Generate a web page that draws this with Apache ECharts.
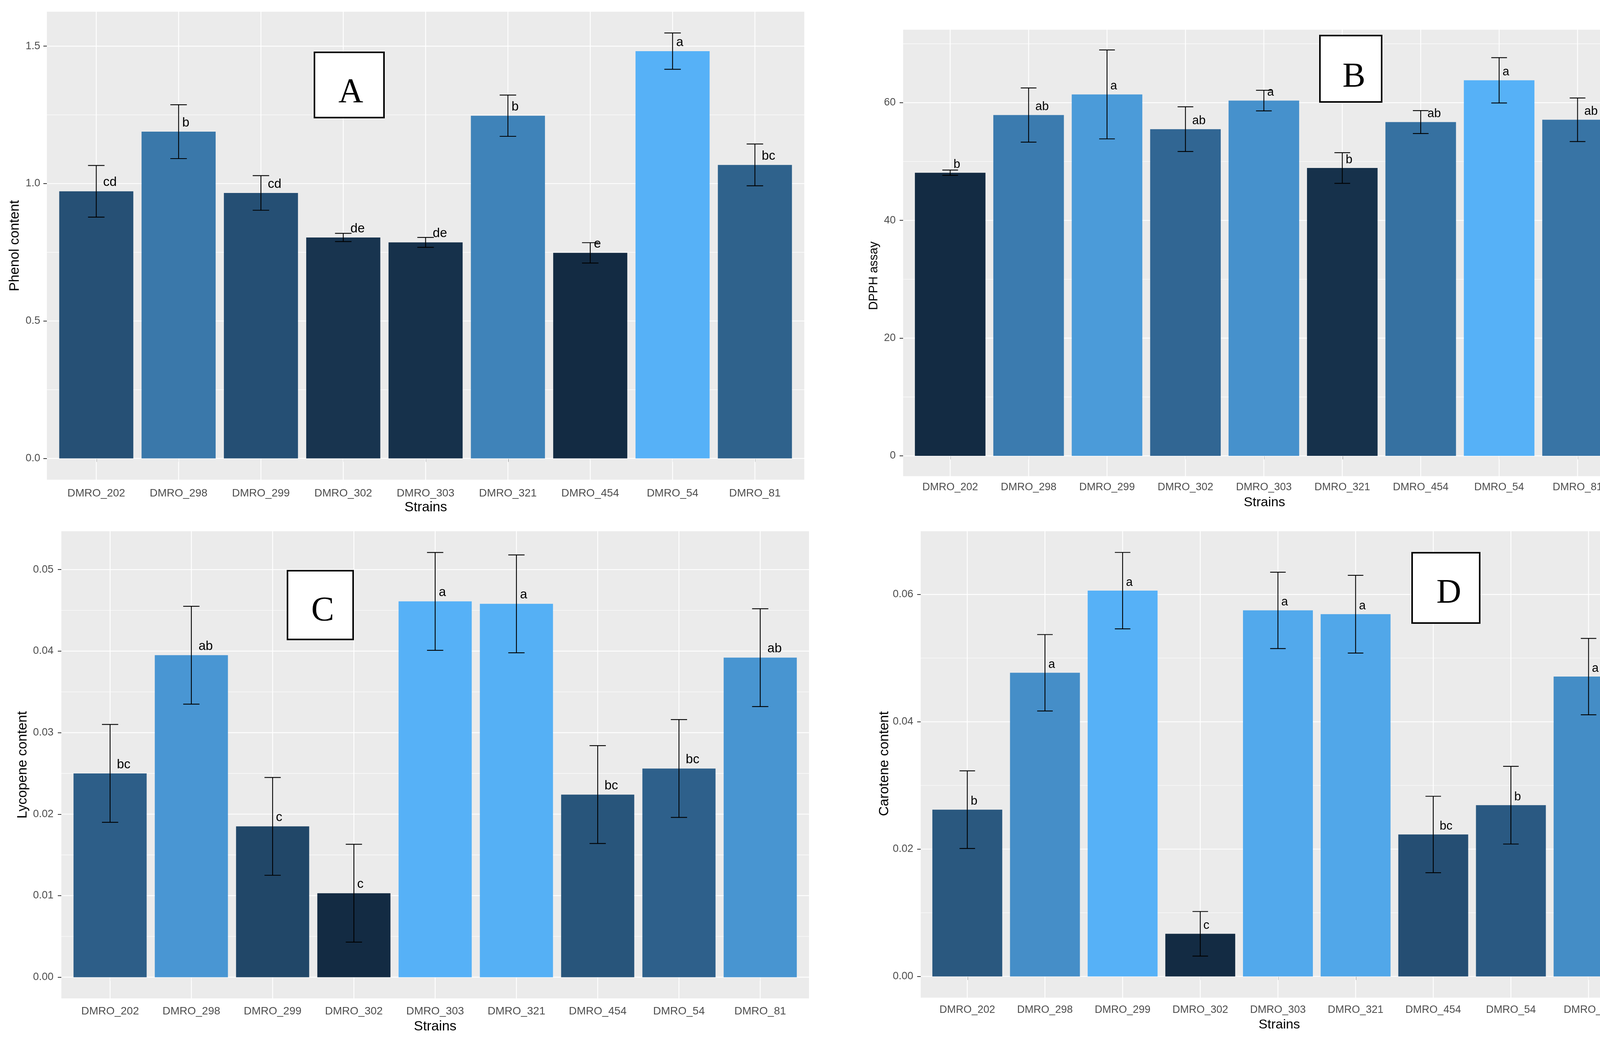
<!DOCTYPE html>
<html>
<head>
<meta charset="utf-8">
<script src="https://cdn.jsdelivr.net/npm/echarts@6.0.0/dist/echarts.min.js"></script>
<style>
html,body{margin:0;padding:0;background:#fff;}
#chart{width:4225px;height:2665px;}
</style>
</head>
<body>
<div id="chart"></div>
<script>
// ---------------- data ----------------
const categories = ['DMRO_202','DMRO_298','DMRO_299','DMRO_302','DMRO_303','DMRO_321','DMRO_454','DMRO_54','DMRO_81'];

const phenolMean    = [0.972, 1.189, 0.966, 0.804, 0.786, 1.247, 0.748, 1.482, 1.068];
const phenolSE      = [0.094, 0.098, 0.063, 0.015, 0.018, 0.075, 0.037, 0.066, 0.076];
const phenolLetters = ['cd','b','cd','de','de','b','e','a','bc'];
const phenolTicks   = [0, 0.5, 1.0, 1.5];
const phenolMinor   = [0.25, 0.75, 1.25];

const dpphMean    = [48.1, 57.9, 61.4, 55.5, 60.35, 48.9, 56.7, 63.8, 57.1];
const dpphSE      = [0.45, 4.6, 7.55, 3.8, 1.75, 2.6, 1.95, 3.85, 3.7];
const dpphLetters = ['b','ab','a','ab','a','b','ab','a','ab'];
const dpphTicks   = [0, 20, 40, 60];
const dpphMinor   = [10, 30, 50, 70];

const lycoMean    = [0.0250, 0.0395, 0.0185, 0.0103, 0.0461, 0.0458, 0.0224, 0.0256, 0.0392];
const lycoSE      = [0.0060, 0.0060, 0.0060, 0.0060, 0.0060, 0.0060, 0.0060, 0.0060, 0.0060];
const lycoLetters = ['bc','ab','c','c','a','a','bc','bc','ab'];
const lycoTicks   = [0, 0.01, 0.02, 0.03, 0.04, 0.05];
const lycoMinor   = [0.005, 0.015, 0.025, 0.035, 0.045];

const caroMean    = [0.0262, 0.0477, 0.0606, 0.0067, 0.0575, 0.0569, 0.0223, 0.0269, 0.0471];
const caroSE      = [0.0061, 0.0060, 0.0060, 0.0035, 0.0060, 0.0061, 0.0060, 0.0061, 0.0060];
const caroLetters = ['b','a','a','c','a','a','bc','b','a'];
const caroTicks   = [0, 0.02, 0.04, 0.06];
const caroMinor   = [0.01, 0.03, 0.05];

// ---------------- helpers ----------------
const FONT = '"Liberation Sans", Arial, sans-serif';
const fillLow = '#132B43', fillHigh = '#56B1F7';

function hexRgb(h){ return [parseInt(h.substr(1,2),16), parseInt(h.substr(3,2),16), parseInt(h.substr(5,2),16)]; }
function toLin(c){ c/=255; return c<=0.04045 ? c/12.92 : Math.pow((c+0.055)/1.055, 2.4); }
function fromLin(c){ c = c<=0.0031308 ? 12.92*c : 1.055*Math.pow(c,1/2.4)-0.055; return Math.round(Math.max(0,Math.min(1,c))*255); }
const Xn=0.95047, Yn=1.0, Zn=1.08883;
function fLab(t){ return t>0.008856 ? Math.cbrt(t) : 7.787*t + 16/116; }
function fInv(t){ return t>0.206893 ? t*t*t : (t-16/116)/7.787; }
function rgbLab(rgb){
  const r=toLin(rgb[0]), g=toLin(rgb[1]), b=toLin(rgb[2]);
  const X=0.4124*r+0.3576*g+0.1805*b, Y=0.2126*r+0.7152*g+0.0722*b, Z=0.0193*r+0.1192*g+0.9505*b;
  const fx=fLab(X/Xn), fy=fLab(Y/Yn), fz=fLab(Z/Zn);
  return [116*fy-16, 500*(fx-fy), 200*(fy-fz)];
}
function labRgb(lab){
  const fy=(lab[0]+16)/116, fx=fy+lab[1]/500, fz=fy-lab[2]/200;
  const X=Xn*fInv(fx), Y=Yn*fInv(fy), Z=Zn*fInv(fz);
  const r= 3.2406*X-1.5372*Y-0.4986*Z, g=-0.9689*X+1.8758*Y+0.0415*Z, b=0.0557*X-0.2040*Y+1.0570*Z;
  return 'rgb('+fromLin(r)+','+fromLin(g)+','+fromLin(b)+')';
}
const labLow = rgbLab(hexRgb(fillLow)), labHigh = rgbLab(hexRgb(fillHigh));
function gradColors(vals){
  const lo=Math.min(...vals), hi=Math.max(...vals);
  return vals.map(v=>{ const t=(v-lo)/(hi-lo); return labRgb([0,1,2].map(i=>labLow[i]+(labHigh[i]-labLow[i])*t)); });
}
const measureCtx = document.createElement('canvas').getContext('2d');
function textW(s, fs){ measureCtx.font = fs+'px '+FONT; return measureCtx.measureText(s).width; }

// ---------------- panels (layout) ----------------
const panels = [
  {mean:phenolMean, se:phenolSE, letters:phenolLetters, ticks:phenolTicks, minor:phenolMinor, dec:1,
   rect:[120,30,1939,1198], xFs:28, yFs:27, xMargin:21, yMargin:17, letFs:33},
  {mean:dpphMean, se:dpphSE, letters:dpphLetters, ticks:dpphTicks, minor:dpphMinor, dec:0,
   rect:[2312,76,1847,1143], xFs:27, yFs:27, xMargin:15, yMargin:19, letFs:31},
  {mean:lycoMean, se:lycoSE, letters:lycoLetters, ticks:lycoTicks, minor:lycoMinor, dec:2,
   rect:[157,1360,1914,1196], xFs:28, yFs:27, xMargin:19, yMargin:20, letFs:33},
  {mean:caroMean, se:caroSE, letters:caroLetters, ticks:caroTicks, minor:caroMinor, dec:2,
   rect:[2357,1360,1829,1194], xFs:27, yFs:27, xMargin:18, yMargin:19, letFs:31}
];

const catPos = categories.map((c,i)=>i+1);
const grids=[], xAxes=[], yAxes=[], series=[];

panels.forEach((p, k)=>{
  const lo = Math.min(0, ...p.mean.map((m,i)=>m-p.se[i]));
  const hi = Math.max(...p.mean.map((m,i)=>m+p.se[i]));
  const pad = (hi-lo)*0.05;
  const colors = gradColors(p.mean);

  grids.push({left:p.rect[0], top:p.rect[1], width:p.rect[2], height:p.rect[3],
    show:true, backgroundColor:'#EBEBEB', borderWidth:0, containLabel:false});

  xAxes.push({gridIndex:k, type:'value', min:0.4, max:9.6,
    axisLine:{show:false}, splitLine:{show:false},
    axisTick:{show:true, customValues:catPos, length:9, lineStyle:{color:'#333333', width:2}},
    axisLabel:{show:true, customValues:catPos, formatter:v=>categories[Math.round(v)-1],
      fontSize:p.xFs, fontFamily:FONT, color:'#4D4D4D', margin:p.xMargin}});

  yAxes.push({gridIndex:k, type:'value', min:lo-pad, max:hi+pad,
    axisLine:{show:false}, splitLine:{show:false},
    axisTick:{show:true, customValues:p.ticks, length:9, lineStyle:{color:'#333333', width:2}},
    axisLabel:{show:true, customValues:p.ticks, formatter:v=>v.toFixed(p.dec),
      fontSize:p.yFs, fontFamily:FONT, color:'#4D4D4D', margin:p.yMargin}});

  // horizontal grid lines (major + minor)
  const hData = p.ticks.map(t=>[5,t,1]).concat(p.minor.map(t=>[5,t,0]));
  series.push({type:'custom', xAxisIndex:k, yAxisIndex:k, silent:true, z:1,
    encode:{x:0,y:1}, data:hData,
    renderItem:(params, api)=>{
      const cs = params.coordSys;
      const y = api.coord([5, api.value(1)])[1];
      return {type:'line', shape:{x1:cs.x, y1:y, x2:cs.x+cs.width, y2:y},
        style:{stroke:'#FFFFFF', lineWidth: api.value(2) ? 2.2 : 1.1}};
    }});
  // vertical grid lines at categories
  series.push({type:'custom', xAxisIndex:k, yAxisIndex:k, silent:true, z:1,
    encode:{x:0,y:1}, data:catPos.map(c=>[c,0]),
    renderItem:(params, api)=>{
      const cs = params.coordSys;
      const x = api.coord([api.value(0), 0])[0];
      return {type:'line', shape:{x1:x, y1:cs.y, x2:x, y2:cs.y+cs.height},
        style:{stroke:'#FFFFFF', lineWidth:2.2}};
    }});
  // bars + error bars + letters
  series.push({type:'custom', xAxisIndex:k, yAxisIndex:k, silent:true, z:2,
    encode:{x:0,y:1}, data:p.mean.map((m,i)=>[i+1, m, p.se[i], i]),
    renderItem:(params, api)=>{
      const x = api.value(0), m = api.value(1), se = api.value(2), i = api.value(3);
      const tl = api.coord([x-0.45, m]), br = api.coord([x+0.45, 0]);
      const top = api.coord([x, m+se]), bot = api.coord([x, m-se]);
      const cl = api.coord([x-0.1, m])[0], cr = api.coord([x+0.1, m])[0];
      const lab = p.letters[i];
      const w = textW(lab, p.letFs);
      const ym = tl[1];
      const es = {stroke:'#000000', lineWidth:2.2};
      return {type:'group', children:[
        {type:'rect', shape:{x:tl[0], y:tl[1], width:br[0]-tl[0], height:br[1]-tl[1]}, style:{fill:colors[i]}},
        {type:'line', shape:{x1:top[0], y1:top[1], x2:bot[0], y2:bot[1]}, style:es},
        {type:'line', shape:{x1:cl, y1:top[1], x2:cr, y2:top[1]}, style:es},
        {type:'line', shape:{x1:cl, y1:bot[1], x2:cr, y2:bot[1]}, style:es},
        {type:'text', style:{text:lab, x:tl[0]+(br[0]-tl[0])/2 + 0.5*w, y: ym - 0.36*p.letFs - 0.32*p.letFs,
          align:'left', verticalAlign:'middle', fill:'#000000', fontSize:p.letFs, fontFamily:FONT}}
      ]};
    }});
});

// ---------------- annotations: titles and panel tags ----------------
const graphic = [];
function vTitle(txt, x, y, fs){ graphic.push({type:'text', x:x, y:y, rotation:Math.PI/2, z:10,
  style:{text:txt, x:0, y:0, align:'center', verticalAlign:'middle', fill:'#000', fontSize:fs, fontFamily:FONT}}); }
function hTitle(txt, x, y, fs){ graphic.push({type:'text', x:x, y:y, z:10,
  style:{text:txt, x:0, y:0, align:'center', verticalAlign:'middle', fill:'#000', fontSize:fs, fontFamily:FONT}}); }
vTitle('Phenol content', 38, 629, 35);
vTitle('DPPH assay', 2237, 706, 31);
vTitle('Lycopene content', 58, 1958, 35);
vTitle('Carotene content', 2264, 1955, 35);
hTitle('Strains', 1090, 1299, 35);
hTitle('Strains', 3237, 1287, 34);
hTitle('Strains', 1114, 2628, 35);
hTitle('Strains', 3275, 2624, 34);

function tag(txt, x0, y0, x1, y1, cx, base){
  graphic.push({type:'rect', z:20, shape:{x:x0+2, y:y0+2, width:x1-x0-4, height:y1-y0-4},
    style:{fill:'#FFFFFF', stroke:'#000000', lineWidth:4}});
  graphic.push({type:'text', z:21, x:cx, y:base-27,
    style:{text:txt, x:0, y:0, align:'center', verticalAlign:'middle', fill:'#000', fontSize:88, fontFamily:'"Liberation Serif", "Times New Roman", serif'}});
}
tag('A', 803, 132, 985, 303, 898, 265);
tag('B', 3377, 89, 3539, 263, 3466, 225);
tag('C', 734, 1459, 906, 1639, 826, 1592);
tag('D', 3613, 1413, 3790, 1597, 3709, 1547);

const chart = echarts.init(document.getElementById('chart'), null, {renderer:'canvas'});
chart.setOption({
  backgroundColor:'#FFFFFF',
  animation:false,
  grid:grids, xAxis:xAxes, yAxis:yAxes, series:series, graphic:graphic
});
</script>
</body>
</html>
